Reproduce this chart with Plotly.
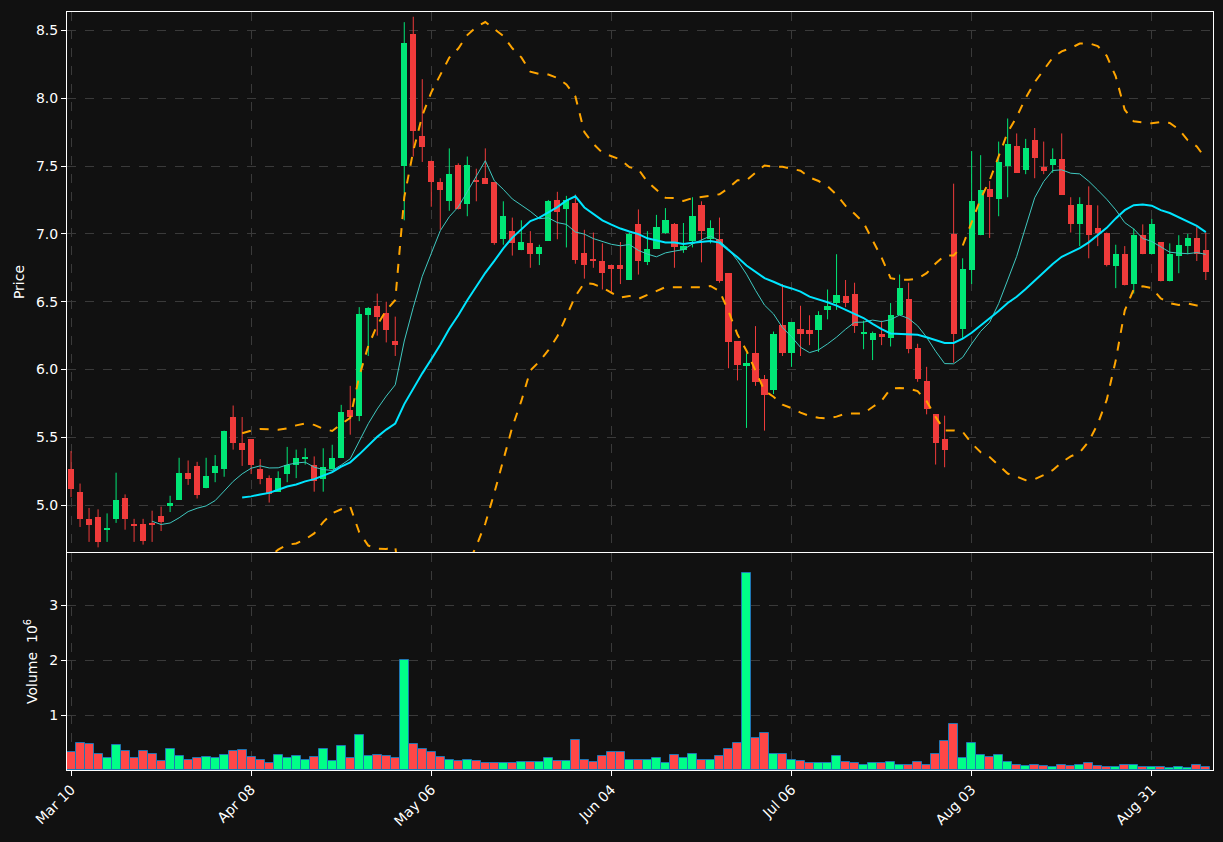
import plotly.graph_objects as go
import pandas as pd

opens = [5.265,5.10,4.90,4.91,4.82,4.90,5.05,4.855,4.86,4.86,4.92,4.995,5.04,5.24,5.29,5.125,5.24,5.27,5.65,5.46,
5.485,5.265,5.20,5.10,5.23,5.30,5.345,5.30,5.19,5.265,5.35,5.70,5.66,6.40,6.47,6.42,6.21,7.50,8.47,7.72,
7.54,7.38,7.24,7.51,7.22,7.40,7.41,7.38,6.96,7.02,6.88,6.93,6.85,6.95,7.25,7.18,7.23,6.86,6.81,6.80,
6.77,6.77,6.66,7.07,6.79,6.89,7.01,7.07,6.88,6.95,7.21,6.96,6.96,6.71,6.21,6.025,6.12,5.93,5.85,6.33,
6.12,6.30,6.29,6.29,6.44,6.49,6.54,6.56,6.265,6.22,6.265,6.23,6.40,6.52,6.16,5.914,5.67,5.485,7.00,6.30,
6.735,6.99,7.33,7.26,7.50,7.65,7.47,7.69,7.49,7.51,7.55,7.21,7.07,7.21,7.04,7.01,6.76,6.85,6.63,6.99,
6.85,6.94,6.65,6.84,6.91,6.97,6.88]
highs = [5.40,5.16,4.98,4.97,4.94,5.24,5.08,4.90,4.90,4.96,4.99,5.07,5.35,5.33,5.32,5.35,5.37,5.55,5.735,5.65,
5.485,5.34,5.22,5.25,5.43,5.41,5.42,5.36,5.42,5.446,5.74,5.88,6.46,6.46,6.56,6.50,6.39,8.56,8.60,8.14,
7.54,7.41,7.63,7.52,7.57,7.48,7.63,7.38,7.24,7.12,7.10,7.02,6.92,7.25,7.31,7.28,7.29,7.03,7.01,6.93,
6.77,6.94,7.01,7.18,7.02,7.14,7.19,7.08,7.08,7.27,7.24,7.10,7.12,6.71,6.21,6.12,6.32,5.96,6.28,6.63,
6.35,6.47,6.40,6.43,6.59,6.85,6.66,6.64,6.36,6.28,6.36,6.49,6.70,6.64,6.19,6.02,5.67,5.66,7.37,6.82,
7.61,7.58,7.39,7.68,7.85,7.74,7.70,7.78,7.68,7.63,7.74,7.27,7.27,7.35,7.21,7.01,6.92,6.91,7.04,7.07,
7.11,6.94,6.93,6.99,7.00,7.05,7.01]
lows = [5.06,4.84,4.73,4.69,4.73,4.87,4.82,4.73,4.71,4.73,4.81,4.95,5.04,5.15,5.05,5.125,5.17,5.21,5.41,5.29,
5.23,5.155,5.02,5.10,5.17,5.20,5.30,5.10,5.10,5.265,5.35,5.52,5.62,6.10,6.25,6.20,6.10,7.10,7.57,7.53,
7.20,7.03,7.17,7.18,7.13,7.24,7.37,6.92,6.92,6.84,6.88,6.75,6.77,6.95,6.96,6.90,6.78,6.67,6.75,6.59,
6.56,6.63,6.66,6.70,6.77,6.89,7.00,6.75,6.86,6.90,6.79,6.93,6.64,6.01,5.92,5.57,5.88,5.55,5.82,6.10,
6.02,6.10,6.18,6.13,6.37,6.44,6.46,6.27,6.15,6.07,6.18,6.17,6.40,6.12,5.91,5.67,5.30,5.28,6.05,6.23,
6.63,6.99,6.97,7.13,7.27,7.45,7.44,7.41,7.44,7.45,7.29,7.01,6.91,6.82,6.91,6.76,6.60,6.62,6.56,6.85,
6.85,6.65,6.65,6.71,6.85,6.80,6.66]
closes = [5.12,4.90,4.855,4.73,4.83,5.04,4.90,4.85,4.74,4.855,4.88,5.015,5.235,5.19,5.076,5.213,5.29,5.55,5.456,5.41,
5.294,5.19,5.08,5.20,5.30,5.345,5.35,5.18,5.28,5.35,5.69,5.65,6.41,6.454,6.39,6.29,6.18,8.41,7.76,7.64,
7.38,7.32,7.44,7.18,7.51,7.38,7.37,6.93,7.13,6.93,6.94,6.85,6.90,7.24,7.16,7.25,6.81,6.77,6.80,6.71,
6.74,6.74,7.00,6.80,6.89,7.05,7.10,6.90,6.91,7.13,7.02,7.04,6.65,6.20,6.03,6.05,5.91,5.81,6.26,6.12,
6.35,6.26,6.26,6.40,6.47,6.55,6.49,6.32,6.275,6.27,6.24,6.40,6.60,6.15,5.93,5.706,5.46,5.41,6.26,6.74,
7.24,7.32,7.27,7.53,7.66,7.45,7.63,7.56,7.46,7.55,7.29,7.07,7.22,6.99,7.01,6.77,6.85,6.62,6.99,6.85,
7.07,6.65,6.85,6.92,6.97,6.85,6.72]
volumes = [0.32,0.49,0.47,0.29,0.22,0.45,0.34,0.21,0.34,0.29,0.16,0.38,0.25,0.18,0.21,0.23,0.21,0.27,0.34,0.36,
0.23,0.19,0.12,0.27,0.21,0.25,0.19,0.23,0.39,0.16,0.43,0.21,0.63,0.25,0.27,0.25,0.21,2.0,0.47,0.39,
0.32,0.23,0.19,0.16,0.18,0.16,0.12,0.12,0.12,0.12,0.14,0.14,0.14,0.21,0.16,0.16,0.54,0.19,0.14,0.25,
0.32,0.32,0.19,0.18,0.18,0.21,0.12,0.27,0.21,0.29,0.18,0.18,0.25,0.39,0.50,3.58,0.58,0.67,0.29,0.30,
0.18,0.16,0.12,0.12,0.12,0.25,0.14,0.12,0.085,0.12,0.12,0.14,0.10,0.085,0.14,0.10,0.29,0.52,0.83,0.21,
0.49,0.27,0.23,0.27,0.14,0.10,0.07,0.085,0.07,0.05,0.085,0.07,0.085,0.12,0.07,0.05,0.05,0.085,0.085,0.05,
0.05,0.05,0.03,0.05,0.03,0.085,0.05]
tick_labels = ["Mar 10", "Apr 08", "May 06", "Jun 04", "Jul 06", "Aug 03", "Aug 31"]

UP, DOWN = "#00e676", "#ef3b3b"
VUP, VDOWN = "#00ff88", "#ff4747"
n = len(closes)
idx = list(range(n))
df = pd.DataFrame(dict(o=opens, h=highs, l=lows, c=closes, v=volumes))
up = df.c >= df.o
ma10 = df.c.rolling(10).mean()
ma20 = df.c.rolling(20).mean()
sd = df.c.rolling(20).std(ddof=0)
bb_up, bb_lo = ma20 + 2 * sd, ma20 - 2 * sd

fig = go.Figure()
for flag, col in [(True, UP), (False, DOWN)]:
    wx, wy = [], []
    for i in idx:
        if bool(up[i]) == flag:
            wx += [i, i, None]
            wy += [lows[i], highs[i], None]
    fig.add_trace(go.Scatter(x=wx, y=wy, mode="lines", line=dict(color=col, width=1),
                             hoverinfo="skip", showlegend=False, xaxis="x", yaxis="y"))
    sel = [i for i in idx if bool(up[i]) == flag]
    base = [min(opens[i], closes[i]) for i in sel]
    hgt = [max(abs(closes[i] - opens[i]), 0.012) for i in sel]
    fig.add_trace(go.Bar(x=sel, y=hgt, base=base, width=0.68, marker=dict(color=col, line=dict(width=0)),
                         showlegend=False, xaxis="x", yaxis="y"))

fig.add_trace(go.Scatter(x=idx, y=ma10, mode="lines", line=dict(color="#3fc8c0", width=1),
                         showlegend=False, xaxis="x", yaxis="y"))
fig.add_trace(go.Scatter(x=idx, y=ma20, mode="lines", line=dict(color="#00e5ff", width=2),
                         showlegend=False, xaxis="x", yaxis="y"))
for b in (bb_up, bb_lo):
    fig.add_trace(go.Scatter(x=idx, y=b, mode="lines", line=dict(color="#ffa500", width=2, dash="dash"),
                             showlegend=False, xaxis="x", yaxis="y"))

fig.add_trace(go.Bar(x=idx, y=volumes, width=1.0,
                     marker=dict(color=[VUP if u else VDOWN for u in up], line=dict(color="#1f77b4", width=1)),
                     showlegend=False, xaxis="x2", yaxis="y2"))

grid = dict(showgrid=True, gridcolor="#3a3a3a", griddash="dash", gridwidth=1)
ax = dict(showline=True, linecolor="white", linewidth=1, mirror=True, ticks="outside", tickcolor="white",
          tickfont=dict(color="white", size=14, family="DejaVu Sans"), zeroline=False, **grid)
tv = list(range(0, n, 20))
fig.update_layout(
    width=1223, height=842, paper_bgcolor="#111111", plot_bgcolor="#111111",
    margin=dict(l=67, r=10, t=12, b=72), barmode="overlay", bargap=0,
    font=dict(family="DejaVu Sans", color="white"),
    xaxis=dict(domain=[0, 1], range=[-0.45, n - 0.2], anchor="y", showticklabels=False, tickvals=tv, **ax),
    yaxis=dict(domain=[0.2875, 1], range=[4.655, 8.635], anchor="x", tickvals=[5, 5.5, 6, 6.5, 7, 7.5, 8, 8.5],
               ticktext=["5.0", "5.5", "6.0", "6.5", "7.0", "7.5", "8.0", "8.5"],
               title=dict(text="Price", font=dict(size=14, color="white"), standoff=8), **ax),
    xaxis2=dict(domain=[0, 1], range=[-0.45, n - 0.2], anchor="y2", tickvals=tv, ticktext=tick_labels,
                tickangle=-45, **ax),
    yaxis2=dict(domain=[0, 0.2863], range=[0, 3.95], anchor="x2", tickvals=[1, 2, 3],
                title=dict(text="Volume  10<sup>6</sup>", font=dict(size=14, color="white"), standoff=8), **ax),
)
fig.write_html("out.html", config={"displayModeBar": False},
               post_script="document.body.style.margin='0';document.body.style.background='#111111';")
